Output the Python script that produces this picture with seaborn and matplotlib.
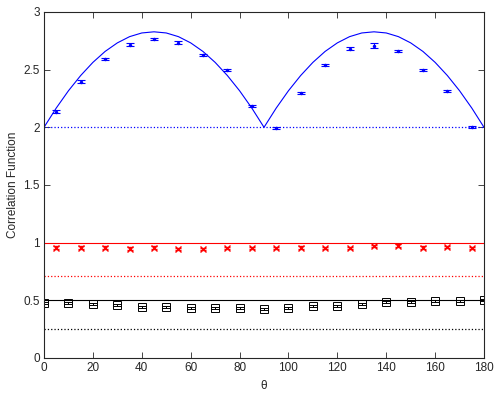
import numpy as np
import pandas as pd
import seaborn as sns
import matplotlib
matplotlib.use("Agg")
import matplotlib.pyplot as plt

# theory curve (read every 5 degrees)
theta_curve = list(range(0, 185, 5))
theory_blue = [2.0, 2.167, 2.317, 2.449, 2.563, 2.658, 2.732, 2.786, 2.818, 2.828,
               2.818, 2.786, 2.732, 2.658, 2.563, 2.449, 2.317, 2.167, 2.0,
               2.167, 2.317, 2.449, 2.563, 2.658, 2.732, 2.786, 2.818, 2.828,
               2.818, 2.786, 2.732, 2.658, 2.563, 2.449, 2.317, 2.167, 2.0]

# measured points
theta_odd = [5, 15, 25, 35, 45, 55, 65, 75, 85, 95, 105, 115, 125, 135, 145, 155, 165, 175]
blue_vals = [2.136, 2.397, 2.59, 2.717, 2.767, 2.735, 2.628, 2.495, 2.185,
             1.995, 2.298, 2.541, 2.683, 2.709, 2.663, 2.495, 2.316, 2.003]
blue_err = [0.01, 0.01, 0.01, 0.01, 0.01, 0.01, 0.01, 0.01, 0.01,
            0.01, 0.01, 0.01, 0.01, 0.025, 0.01, 0.01, 0.01, 0.01]
red_vals = [0.957, 0.957, 0.957, 0.948, 0.957, 0.945, 0.942, 0.955, 0.955,
            0.952, 0.957, 0.955, 0.955, 0.970, 0.975, 0.957, 0.960, 0.952]
red_err = [0.01] * 18

theta_even = list(range(0, 190, 10))
black_vals = [0.474, 0.474, 0.465, 0.457, 0.445, 0.442, 0.431, 0.434, 0.434, 0.428,
              0.434, 0.448, 0.454, 0.465, 0.483, 0.489, 0.494, 0.497, 0.500]
black_err = [0.008] * 19

# reference levels
blue_classical = 2.0
red_quantum = 1.0
red_classical = 0.707
black_quantum = 0.5
black_classical = 0.25

sns.set_theme(style="ticks")
plt.rcParams['font.family'] = ['Liberation Sans', 'DejaVu Sans']
plt.rcParams['xtick.direction'] = 'in'
plt.rcParams['ytick.direction'] = 'in'
plt.rcParams['xtick.top'] = True
plt.rcParams['ytick.right'] = True

fig = plt.figure(figsize=(4.98, 3.95), dpi=100)
ax = fig.add_axes([0.0884, 0.0937, 0.8835, 0.876])

blue = '#0000ff'
red = '#ff0000'

# theory lines
sns.lineplot(x=theta_curve, y=theory_blue, color=blue, lw=0.8, ax=ax)
xs = [0, 180]
ax.plot(xs, [blue_classical] * 2, ':', color=blue, lw=0.9)
ax.plot(xs, [red_quantum] * 2, '-', color=red, lw=0.8)
ax.plot(xs, [red_classical] * 2, ':', color=red, lw=0.9)
ax.plot(xs, [black_quantum] * 2, '-', color='black', lw=0.8)
ax.plot(xs, [black_classical] * 2, ':', color='black', lw=0.9)

# data with errorbars
ax.errorbar(theta_odd, blue_vals, yerr=blue_err, fmt='.', color=blue, ms=3,
            capsize=3, elinewidth=0.8, capthick=0.8)
ax.errorbar(theta_odd, red_vals, yerr=red_err, fmt='x', color=red, ms=4,
            mew=1.0, capsize=2.5, elinewidth=0.8, capthick=0.8)
ax.errorbar(theta_even, black_vals, yerr=black_err, fmt='s', color='black',
            mfc='none', ms=6, mew=0.7, capsize=3, elinewidth=0.7, capthick=0.7)

ax.set_xlim(0, 180)
ax.set_ylim(0, 3)
ax.set_xticks(range(0, 200, 20))
ax.set_yticks([0, 0.5, 1, 1.5, 2, 2.5, 3])
ax.set_yticklabels(['0', '0.5', '1', '1.5', '2', '2.5', '3'])
ax.tick_params(labelsize=8.5, length=4, width=0.6, pad=3)
for s in ax.spines.values():
    s.set_linewidth(0.8)
ax.set_xlabel('θ', fontsize=8.5, labelpad=4)
ax.set_ylabel('Correlation Function', fontsize=8.5, labelpad=3)

fig.savefig('out.png', dpi=100)
